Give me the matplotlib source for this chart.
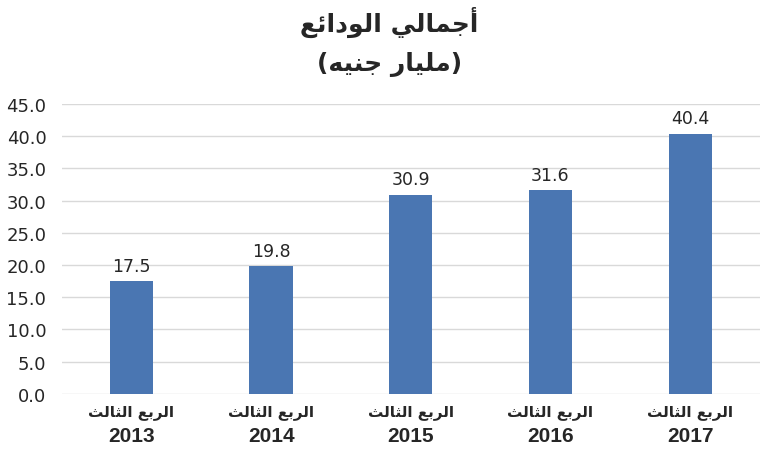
import matplotlib
matplotlib.use("Agg")
from matplotlib import pyplot as plt

# data
quarter = "الربع الثالث"
years = ["2013", "2014", "2015", "2016", "2017"]
deposits = [17.5, 19.8, 30.9, 31.6, 40.4]
title_line1 = "أجمالي الودائع"
title_line2 = "(مليار جنيه)"

# matplotlib has no arabic shaping, so pick presentation forms by hand
# letter: (isolated, final, initial, medial); None = does not join forward
FORMS = {
    "ا": ("\uFE8D", "\uFE8E", None, None),
    "أ": ("\uFE83", "\uFE84", None, None),
    "ب": ("\uFE8F", "\uFE90", "\uFE91", "\uFE92"),
    "ث": ("\uFE99", "\uFE9A", "\uFE9B", "\uFE9C"),
    "ج": ("\uFE9D", "\uFE9E", "\uFE9F", "\uFEA0"),
    "د": ("\uFEA9", "\uFEAA", None, None),
    "ر": ("\uFEAD", "\uFEAE", None, None),
    "ع": ("\uFEC9", "\uFECA", "\uFECB", "\uFECC"),
    "ل": ("\uFEDD", "\uFEDE", "\uFEDF", "\uFEE0"),
    "م": ("\uFEE1", "\uFEE2", "\uFEE3", "\uFEE4"),
    "ن": ("\uFEE5", "\uFEE6", "\uFEE7", "\uFEE8"),
    "ه": ("\uFEE9", "\uFEEA", "\uFEEB", "\uFEEC"),
    "و": ("\uFEED", "\uFEEE", None, None),
    "ي": ("\uFEF1", "\uFEF2", "\uFEF3", "\uFEF4"),
    "ئ": ("\uFE89", "\uFE8A", "\uFE8B", "\uFE8C"),
}


def shape(text):
    out = []
    for i, ch in enumerate(text):
        if ch not in FORMS:
            out.append(ch)
            continue
        prev = text[i - 1] if i > 0 else ""
        nxt = text[i + 1] if i + 1 < len(text) else ""
        iso, fin, ini, med = FORMS[ch]
        joins_prev = prev in FORMS and FORMS[prev][2] is not None
        joins_next = nxt in FORMS and ini is not None
        if joins_prev and joins_next:
            out.append(med)
        elif joins_prev:
            out.append(fin)
        elif joins_next:
            out.append(ini)
        else:
            out.append(iso)
    # right to left: reverse, and mirror the brackets
    vis = "".join(reversed(out))
    return vis.translate(str.maketrans("()", ")("))


fig = plt.figure(figsize=(7.7, 4.64), dpi=100)
ax = fig.add_axes([0.08, 0.149, 0.907, 0.625])

x = range(len(years))
bars = ax.bar(x, deposits, width=0.31, color="#4a76b2", zorder=3)

for b, v in zip(bars, deposits):
    ax.text(b.get_x() + b.get_width() / 2, v + 1.0, f"{v:.1f}",
            ha="center", va="bottom", fontsize=12.5, color="#262626",
            family="DejaVu Sans")

ax.set_ylim(0, 45)
ax.set_xlim(-0.5, len(years) - 0.5)
ax.set_yticks(range(0, 46, 5))
ax.set_yticklabels([f"{t:.1f}" for t in range(0, 46, 5)], fontsize=13,
                   color="#262626")
ax.grid(axis="y", color="#d9d9d9", linewidth=1, zorder=0)
for s in ["top", "right", "left", "bottom"]:
    ax.spines[s].set_visible(False)
ax.tick_params(axis="y", length=0, pad=11)
ax.tick_params(axis="x", length=0)

ax.set_xticks(list(x))
ax.set_xticklabels([""] * len(years))
# quarter label and year under each bar
for i, yr in enumerate(years):
    ax.text(i, -0.035, shape(quarter), transform=ax.get_xaxis_transform(),
            ha="center", va="top", fontsize=11, fontweight="bold",
            family=["DejaVu Sans"], color="#262626")
    ax.text(i, -0.112, yr, transform=ax.get_xaxis_transform(),
            ha="center", va="top", fontsize=15, fontweight="bold",
            family=["Liberation Sans", "DejaVu Sans"], color="#262626")

fig.text(0.506, 0.952, shape(title_line1), ha="center", va="center",
         fontsize=18, fontweight="bold", family="DejaVu Sans", color="#262626")
fig.text(0.506, 0.862, shape(title_line2), ha="center", va="center",
         fontsize=18, fontweight="bold", family="DejaVu Sans", color="#262626")

fig.savefig("out.png", dpi=100)
